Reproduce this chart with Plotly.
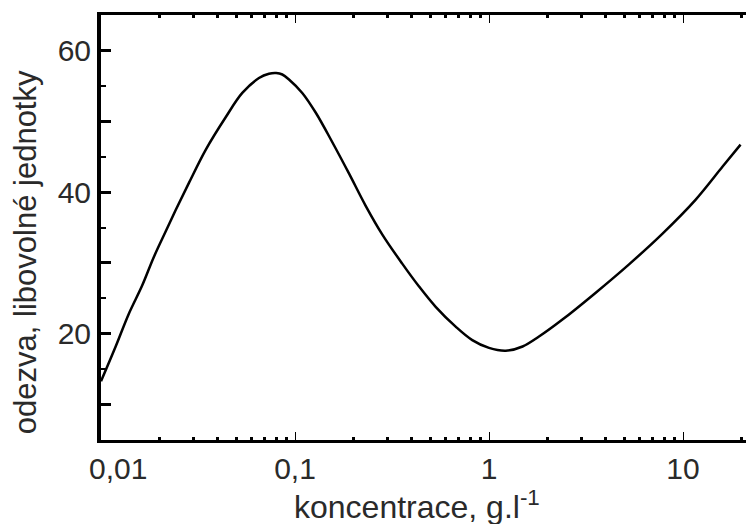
import plotly.graph_objects as go

# data
koncentrace = [0.0100, 0.0119, 0.0139, 0.0163, 0.0187, 0.0216, 0.0243, 0.0284,
               0.0347, 0.0440, 0.0535, 0.0652, 0.0734, 0.0800, 0.0860, 0.0931,
               0.109, 0.128, 0.156, 0.190, 0.231, 0.282, 0.357, 0.435, 0.531,
               0.673, 0.820, 1.00, 1.22, 1.49, 1.81, 2.39, 3.55, 5.27, 7.82,
               11.6, 16.0, 19.8]
odezva = [13.3, 18.2, 22.8, 26.8, 30.8, 34.5, 37.5, 41.3,
          46.0, 50.6, 54.0, 56.1, 56.7, 56.8, 56.6, 55.9,
          54.0, 51.2, 47.0, 42.6, 38.1, 34.0, 29.9, 26.7, 23.8,
          21.0, 19.1, 18.0, 17.6, 18.2, 19.6, 22.0, 25.8, 29.8, 34.1,
          38.9, 43.6, 46.7]

x_major = [0.01, 0.1, 1, 10]
x_major_text = ["", "0,1", "1", "10"]
x_minor = [m * d for d in (0.01, 0.1, 1, 10) for m in range(2, 10)]
y_major = [10, 20, 30, 40, 50, 60]
y_major_text = ["", "20", "", "40", "", "60"]

x_title = "koncentrace, g.l<sup>-1</sup>"
y_title = "odezva, libovolné jednotky"

tick_font = dict(family="Liberation Sans, Arial, sans-serif", size=30, color="#2a2a2a")
title_font = dict(family="Liberation Sans, Arial, sans-serif", size=32, color="#2a2a2a")

fig = go.Figure()
fig.add_trace(go.Scatter(x=koncentrace, y=odezva, mode="lines",
                         line=dict(color="black", width=2.5, shape="spline", smoothing=1.0),
                         hoverinfo="skip"))

fig.update_layout(
    width=746, height=524,
    margin=dict(l=101, r=0, t=15, b=84),
    paper_bgcolor="white", plot_bgcolor="white",
    showlegend=False,
    xaxis=dict(type="log", range=[-2, 1.3247],
               showline=True, linewidth=3, linecolor="black", mirror="ticks",
               ticks="inside", ticklen=8, tickwidth=1, tickcolor="black",
               tickmode="array", tickvals=x_major, ticktext=x_major_text,
               minor=dict(tickmode="array", tickvals=x_minor, ticks="inside",
                          ticklen=3, tickwidth=3, tickcolor="black", showgrid=False),
               showgrid=False, zeroline=False, tickfont=tick_font),
    yaxis=dict(range=[5, 65],
               showline=True, linewidth=4, linecolor="black", mirror=False,
               ticks="inside", ticklen=10, tickwidth=3, tickcolor="black",
               tickmode="array", tickvals=y_major, ticktext=y_major_text,
               minor=dict(dtick=5, tick0=0, ticks="inside", ticklen=5, tickwidth=2,
                          tickcolor="black", showgrid=False),
               showgrid=False, zeroline=False, tickfont=tick_font),
)

fig.add_annotation(x=-2, y=0, xref="x", yref="paper", text="0,01", showarrow=False,
                   xanchor="center", yanchor="top", xshift=17, yshift=-10,
                   font=tick_font)
fig.add_annotation(x=0.49, y=0, xref="paper", yref="paper", text=x_title, showarrow=False,
                   xanchor="center", yanchor="top", yshift=-43, font=title_font)
fig.add_annotation(x=0, y=0.442, xref="paper", yref="paper", text=y_title, showarrow=False,
                   textangle=-90, xanchor="center", yanchor="middle", xshift=-76,
                   font=dict(title_font, size=31))

fig.write_html("out.html")
